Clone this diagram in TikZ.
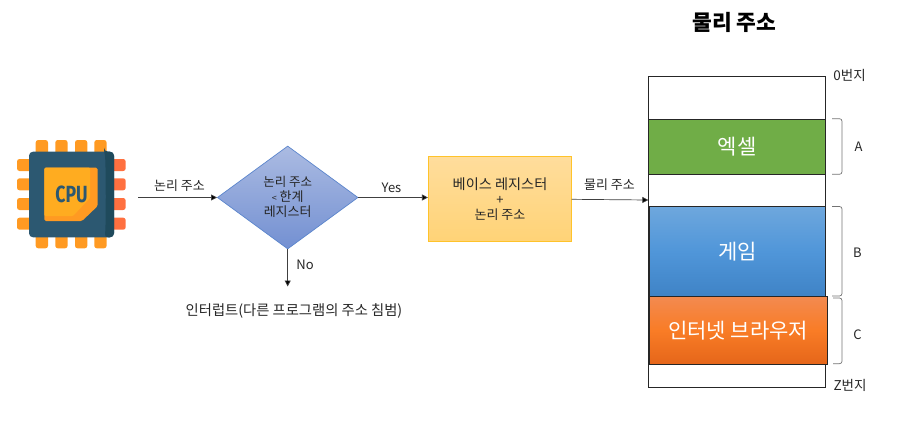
\documentclass[tikz,border=0pt]{standalone}
\usepackage{fontspec}
\setmainfont{Noto Sans CJK KR}
\newfontfamily\cpufont{Fira Sans}
\usetikzlibrary{arrows.meta,shapes.geometric}
\definecolor{txt}{HTML}{262626}
\definecolor{cpubody}{HTML}{2C5871}
\definecolor{cpudark}{HTML}{1F4A5C}
\definecolor{pinA}{HTML}{FF9A22}
\definecolor{pinB}{HTML}{FF7040}
\definecolor{chipA}{HTML}{FFAC20}
\definecolor{chipB}{HTML}{FF9A22}
\definecolor{decTop}{HTML}{ABBBE2}
\definecolor{decBot}{HTML}{7390D2}
\definecolor{decLine}{HTML}{5B85CC}
\definecolor{baseTop}{HTML}{FFDD9C}
\definecolor{baseBot}{HTML}{FFD377}
\definecolor{baseLine}{HTML}{FFC32A}
\definecolor{green1}{HTML}{70AD47}
\definecolor{blueT}{HTML}{6EA7DD}
\definecolor{blueM}{HTML}{5096D9}
\definecolor{blueB}{HTML}{3F83C6}
\definecolor{orT}{HTML}{F38A50}
\definecolor{orM}{HTML}{F97C26}
\definecolor{orB}{HTML}{E5661A}
\tikzset{
  x=1pt,y=-1pt,
  flow/.style={draw=black!75,line width=.7pt,-{Triangle[length=6pt,width=6pt,fill=black]}},
  lbl/.style={font=\fontsize{13}{15}\selectfont,text=txt,inner sep=0,align=center},
  biglbl/.style={font=\fontsize{21}{24}\selectfont,text=white,inner sep=0},
  brk/.style={draw=black!55,line width=.7pt,rounded corners=2.5pt},
  seg/.style={draw=black!85,line width=.8pt,inner sep=0,minimum width=#1,anchor=north west},
  pin/.style={rounded corners=2.5pt},
}
\begin{document}
\begin{tikzpicture}
\useasboundingbox (0,0) rectangle (897,429);
% CPU
\foreach \x in {35.7,55.3,75,94.3}{
  \fill[pinA,pin] (\x,140) rectangle (\x+12.3,156);
  \fill[pinA,pin] (\x,233) rectangle (\x+12.3,248.3);
}
\foreach \y in {159,178.3,198,217.7}{
  \fill[pinA,pin] (17,\y) rectangle (34,\y+12);
  \fill[pinB,pin] (109,\y) rectangle (125.7,\y+12);
}
\node[minimum width=85,minimum height=85.6,inner sep=0,fill=cpubody,rounded corners=4pt] (cpu) at (71.5,194.5) {};
\fill[cpudark,rounded corners=4pt] (104,151.7) -- (114,151.7) -- (114,237.3) -- (104,237.3) .. controls (106,230) and (106,160) .. (104,151.7) -- cycle;
\fill[chipB,rounded corners=1.5pt] (44.3,167.7) -- (97.7,167.7) -- (97.7,206) -- (82,221) -- (44.3,221) -- cycle;
\fill[chipA,rounded corners=1pt] (44.3,167.7) -- (90,167.7) -- (90,198) -- (73,216) -- (44.3,216) -- cycle;
\node[inner sep=0,text=cpubody] (cputext) at (71.5,194) {\cpufont\bfseries\fontsize{18}{18}\selectfont\scalebox{.98}[1.3]{CPU}};
\coordinate (cpuout) at (138,197.5);
% flow
\node[shape=diamond,aspect=1.366,minimum width=140.7,minimum height=103,inner sep=0,draw=decLine,line width=.7pt,top color=decTop,bottom color=decBot] (dec) at (287.7,197.5) {};
\node[lbl] (dectext) at (287.7,197) {\fontsize{12.5}{14.7}\selectfont 논리 주소\\{\fontsize{9}{14.7}\selectfont <} 한계\\레지스터};
\node[minimum width=143.4,minimum height=84.3,inner sep=0,draw=baseLine,line width=.7pt,top color=baseTop,bottom color=baseBot,lbl] (base) at (500,198.85) {\fontsize{14.2}{15.5}\selectfont 베이스 레지스터\\+\\논리 주소};
\draw[flow] (cpuout) -- (dec.west);
\draw[flow] (dec.east) -- (dec.east -| base.west);
\coordinate (irq) at (287.7,286.5);
\draw[flow] (dec.south) -- (irq);
\node[lbl] (l1) at (179.5,186) {논리 주소};
\node[lbl] (l2) at (391.5,187.5) {Yes};
\node[lbl] (l3) at (305,265) {No};
\node[lbl] (l4) at (609.5,184.5) {물리 주소};
\node[lbl,font=\fontsize{14.3}{16}\selectfont] (intr) at (294,311) {인터럽트(다른 프로그램의 주소 침범)};
% memory
\node[seg=176.7,minimum height=310.7] (mem) at (648.3,76) {};
\node[seg=176.7,minimum height=55.6,fill=green1,biglbl,anchor=north west] (excel) at (648.3,118.7) {엑셀};
\node[seg=176,minimum height=89.7,top color=blueT,bottom color=blueB,middle color=blueM,biglbl,anchor=north west] (game) at (649,206.3) {게임};
\node[seg=177.5,minimum height=67.7,top color=orT,bottom color=orB,middle color=orM,biglbl,anchor=north west] (web) at (649,296) {인터넷 브라우저};
\coordinate (memin) at (648.3,200);
\draw[flow] (571.7,199.3) -- (memin);
% braces
\draw[brk] (832,118.7) -- (842,118.7) -- (842,174.3) -- (832,174.3);
\draw[brk] (832,206.5) -- (842,206.5) -- (842,296) -- (832,296);
\draw[brk] (833,298) -- (842,298) -- (842,363.7) -- (833,363.7);
\node[lbl] (a) at (858.5,147) {A};
\node[lbl] (b) at (857.5,253) {B};
\node[lbl] (c) at (857.5,335) {C};
\node[lbl,font=\fontsize{13.5}{15}\selectfont] (zero) at (849.5,75) {0번지};
\node[lbl,font=\fontsize{13.5}{15}\selectfont] (zed) at (850,385.5) {Z번지};
\node[inner sep=0,font=\fontsize{21.5}{24}\selectfont\bfseries,text=black] (title) at (734.5,22) {물리 주소};
\end{tikzpicture}
\end{document}
